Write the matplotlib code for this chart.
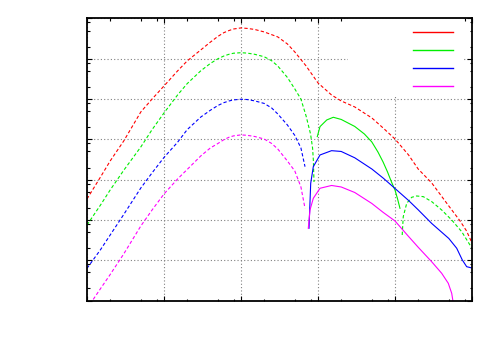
import matplotlib
matplotlib.use('Agg')
import matplotlib.pyplot as plt
from matplotlib.lines import Line2D
from matplotlib.patches import Rectangle
from matplotlib.ticker import LogLocator, NullFormatter

# red: one dashed curve
red_x = [1, 1.5, 2, 3, 5, 7, 10, 15, 20, 30, 40, 50, 60, 70, 80, 100, 120, 150, 200, 300,
         400, 500, 700, 1000, 1500, 2000, 3000, 5000, 7000, 1e4, 1.5e4, 2e4, 3e4, 5e4, 7e4,
         8.5e4, 1e5]
red_y = [332, 1170, 2910, 9120, 4.79e4, 1.00e5, 2.11e5, 4.98e5, 8.81e5, 1.65e6, 2.58e6,
         3.57e6, 4.44e6, 5.01e6, 5.46e6, 5.81e6, 5.65e6, 5.33e6, 4.62e6, 3.48e6, 2.33e6,
         1.47e6, 6.63e5, 2.51e5, 1.26e5, 8.97e4, 6.37e4, 3.40e4, 1.92e4, 1.02e4, 4100,
         1840, 828, 222, 94.5, 53.3, 26.9]

# green: dashed / solid / dashed pieces
green1_x = [1, 1.5, 2, 3, 5, 7, 10, 15, 20, 30, 40, 50, 60, 70, 80, 100, 120, 150, 200,
            250, 300, 400, 500, 600, 700, 800, 850, 870, 887]
green1_y = [75.2, 236, 555, 1710, 6480, 1.74e4, 4.52e4, 1.26e5, 2.41e5, 5.01e5, 7.64e5,
            9.95e5, 1.17e6, 1.29e6, 1.37e6, 1.41e6, 1.38e6, 1.29e6, 1.12e6, 8.92e5, 6.62e5,
            3.44e5, 1.78e5, 1.0e5, 3.81e4, 1.36e4, 6120, 3080, 877]
green2_x = [979, 1062, 1300, 1580, 2000, 3000, 4000, 5000, 6000, 7000, 8000, 9000, 1e4,
            1.08e4, 1.16e4]
green2_y = [1.17e4, 2.07e4, 3.03e4, 3.53e4, 3.12e4, 2.09e4, 1.36e4, 8620, 4870, 2750,
            1550, 877, 555, 332, 195]
green3_x = [1.24e4, 1.28e4, 1.42e4, 1.65e4, 1.91e4, 2.33e4, 3e4, 4.04e4, 5.45e4, 7.35e4, 1e5]
green3_y = [42.4, 121, 260, 366, 394, 379, 285, 177, 100, 51.3, 19.9]

# blue: dashed then solid
blue1_x = [1, 1.5, 2, 3, 5, 7, 10, 15, 20, 30, 40, 50, 60, 70, 80, 100, 120, 150, 200, 250,
           300, 400, 500, 600, 678]
blue1_y = [6.33, 18.4, 42.4, 137, 622, 1475, 3560, 8470, 1.74e4, 3.57e4, 5.27e4, 6.90e4,
           8.14e4, 8.97e4, 9.51e4, 9.89e4, 9.72e4, 9.02e4, 7.78e4, 6.01e4, 4.27e4, 2.28e4,
           1.25e4, 6120, 2100]
blue2_x = [764, 804, 869, 1062, 1500, 2000, 3000, 5000, 7000, 1e4, 1.5e4, 2e4, 3e4, 5e4,
           6.33e4, 7.48e4, 8.53e4, 1e5]
blue2_y = [62.3, 814, 2100, 4100, 5240, 5010, 3490, 1840, 1100, 605, 305, 179, 81.9, 34.8,
           19.9, 10.2, 6.94, 6.44]

# magenta: dashed then solid
mag1_x = [1, 1.5, 2, 3, 5, 7, 10, 15, 20, 30, 40, 50, 60, 70, 80, 100, 120, 150, 200, 250,
          300, 400, 500, 600, 678]
mag1_y = [0.633, 1.99, 4.44, 14.4, 71, 177, 442, 1040, 1790, 3870, 6120, 7870, 9840,
          1.13e4, 1.22e4, 1.29e4, 1.26e4, 1.18e4, 1.02e4, 7910, 5780, 2910, 1640, 659, 195]
mag2_x = [748, 787, 869, 1062, 1500, 2000, 3000, 5000, 7000, 1e4, 1.5e4, 2e4, 3e4, 4.04e4,
          4.92e4, 5.45e4, 5.71e4]
mag2_y = [62.3, 177, 345, 612, 718, 659, 481, 257, 155, 94.5, 39, 21.1, 9.18, 4.76, 2.69,
          1.52, 0.87]

RED, GREEN, BLUE, MAG = '#ff0000', '#00ee00', '#0000ff', '#ff00ff'
DASH = (0, (3, 2))
LW = 0.8

fig = plt.figure(figsize=(5, 3.5), dpi=100)
ax = fig.add_axes([0.174, 0.1411, 0.77, 0.8063])
ax.set_xscale('log')
ax.set_yscale('log')

ax.plot(red_x, red_y, color=RED, lw=LW, ls=DASH)
ax.plot(green1_x, green1_y, color=GREEN, lw=LW, ls=DASH)
ax.plot(green2_x, green2_y, color=GREEN, lw=LW)
ax.plot(green3_x, green3_y, color=GREEN, lw=LW, ls=DASH)
ax.plot(blue1_x, blue1_y, color=BLUE, lw=LW, ls=DASH)
ax.plot(blue2_x, blue2_y, color=BLUE, lw=LW)
ax.plot(mag1_x, mag1_y, color=MAG, lw=LW, ls=DASH)
ax.plot(mag2_x, mag2_y, color=MAG, lw=LW)

ax.set_xlim(1, 1e5)
ax.set_ylim(1, 1e7)

for axis in (ax.xaxis, ax.yaxis):
    axis.set_major_locator(LogLocator(base=10, numticks=20))
    axis.set_minor_locator(LogLocator(base=10, subs=(2, 5, 8), numticks=20))
    axis.set_major_formatter(NullFormatter())
    axis.set_minor_formatter(NullFormatter())

ax.tick_params(which='both', direction='in', top=True, right=True, width=0.8, color='black')
ax.tick_params(which='major', length=3.5)
ax.tick_params(which='minor', length=1.8)
for s in ax.spines.values():
    s.set_linewidth(1.3)

ax.set_axisbelow(True)
ax.grid(True, which='major', color='0.5', ls=(0, (1, 2)), lw=0.8)

# key area blanks the grid behind it
ax.add_patch(Rectangle((0.678, 0.725), 0.299, 0.275, transform=ax.transAxes,
                       facecolor='white', edgecolor='none', zorder=1.5))

handles = [Line2D([], [], color=c, lw=1.0) for c in (RED, GREEN, BLUE, MAG)]
ax.legend(handles, ['', '', '', ''], loc='upper right', bbox_to_anchor=(0.9506, 0.975),
          frameon=False, markerfirst=False, handlelength=2.88, handletextpad=0,
          borderpad=0, borderaxespad=0, labelspacing=0.29, fontsize=10)

fig.savefig('out.png', dpi=100)
